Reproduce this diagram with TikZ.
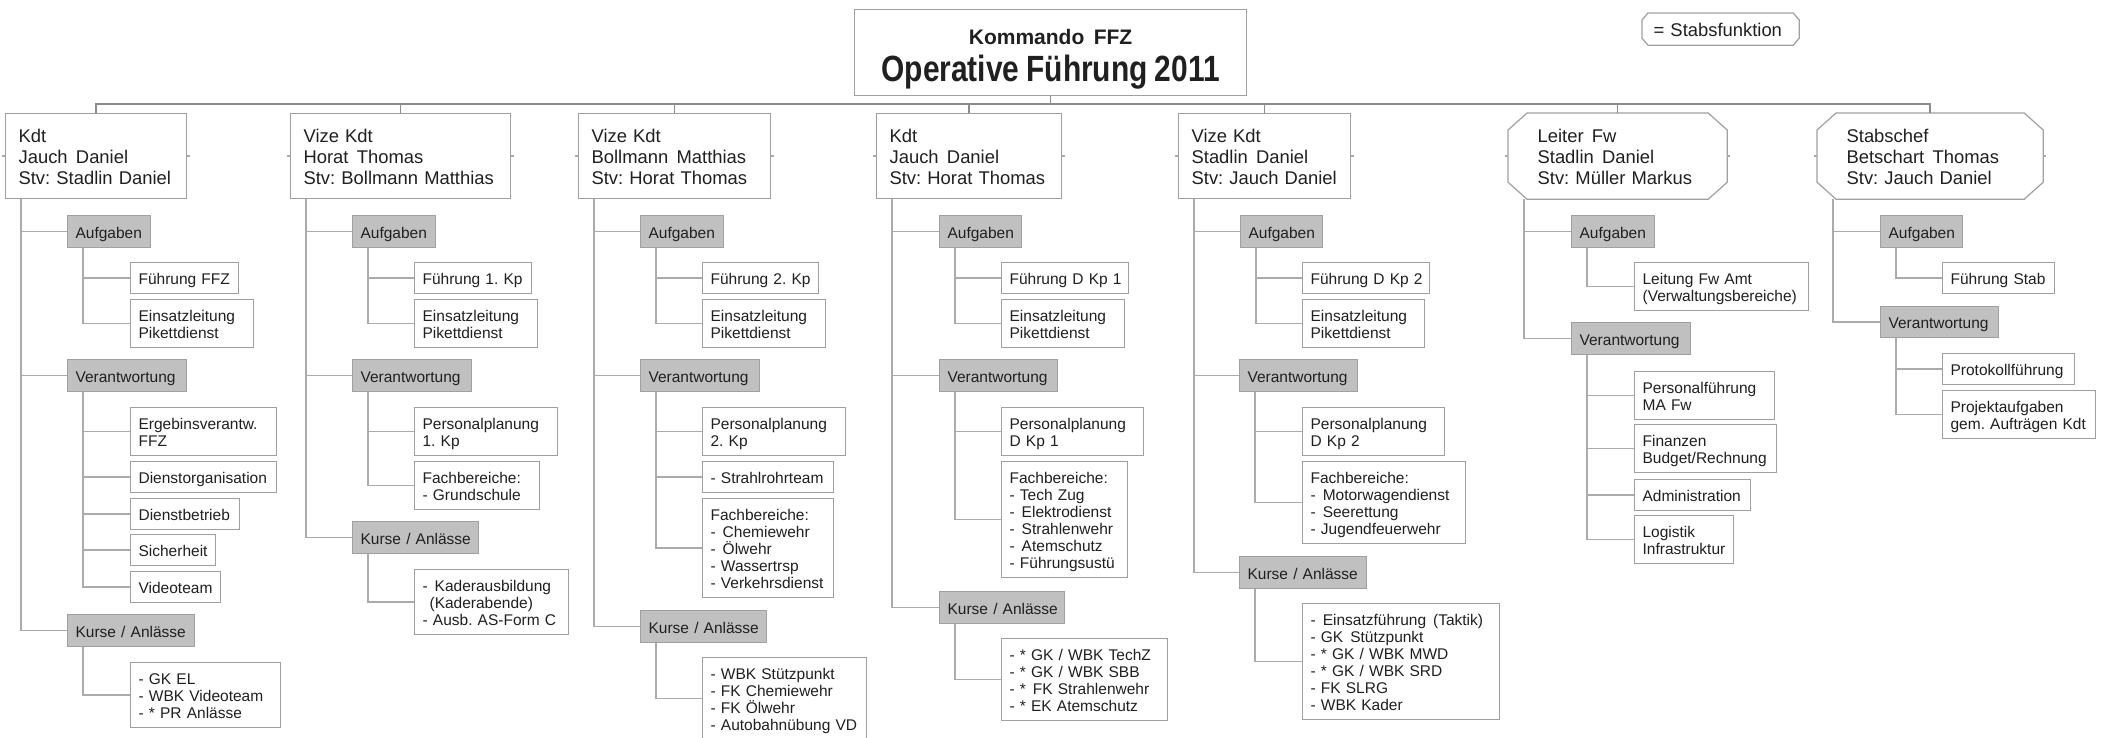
\documentclass[tikz,border=0pt]{standalone}
\usepackage{fontspec}
\setmainfont{Liberation Sans}
\newfontfamily\titelfont[FakeStretch=0.82]{Liberation Sans}
\usepackage{tikz}
\frenchspacing

\definecolor{rand}{HTML}{A0A0A0}
\definecolor{linie}{HTML}{ABABAB}
\definecolor{stamm}{HTML}{8C8C8C}
\definecolor{grau}{HTML}{C0C0C0}
\definecolor{schrift}{HTML}{202020}

\newcommand{\zw}{\hspace{0.45em}}
\newcommand{\fasen}[3]{%
  \draw[draw=rand,line width=1.2pt] ([xshift=#2]#1.north west) -- ([xshift=-#2]#1.north east)
    -- ([yshift=-#3]#1.north east) -- ([yshift=#3]#1.south east)
    -- ([xshift=-#2]#1.south east) -- ([xshift=#2]#1.south west)
    -- ([yshift=#3]#1.south west) -- ([yshift=-#3]#1.north west) -- cycle;}

\begin{document}
\begin{tikzpicture}[x=1pt,y=-1pt,
  kasten/.style={draw=rand,line width=1.2pt,anchor=north west,inner sep=0pt,align=left,text=schrift},
  titelbox/.style={kasten,align=center,text width=392pt,minimum height=86pt,
    font=\fontsize{21}{37}\selectfont\bfseries},
  kopfbox/.style={kasten,minimum height=85pt,font=\fontsize{18.4}{21}\selectfont,
    execute at begin node={\leftskip=13pt\lineskiplimit=-20pt\rule{0pt}{19pt}},
    execute at end node={\rule[-4pt]{0pt}{4pt}}},
  stabbox/.style={kopfbox,draw=none,
    execute at begin node={\leftskip=29pt\lineskiplimit=-20pt\rule{0pt}{19pt}}},
  legende/.style={kasten,draw=none,minimum height=31pt,font=\fontsize{18.4}{21}\selectfont,
    execute at begin node={\leftskip=11pt\rule{0pt}{18.4pt}},
    execute at end node={\rule[-4pt]{0pt}{4pt}}},
  eintrag/.style={kasten,minimum height=31pt,font=\fontsize{15.5}{17}\selectfont,
    execute at begin node={\leftskip=8pt\lineskiplimit=-20pt\rule{0pt}{16.5pt}},
    execute at end node={\rule[-3.5pt]{0pt}{3.5pt}}},
  rubrik/.style={eintrag,fill=grau,minimum height=32pt},
  ast/.style={draw=linie,line width=1.5pt},
  zweig/.style={to path={|- (\tikztotarget.west)}},
  bus/.style={draw=stamm,line width=1.5pt,to path={-- ++(0,8) -| (\tikztotarget.north)}}]

\path[fill=white,use as bounding box] (0,0) rectangle (2105,737);

\node[titelbox] (titel) at (854,9) {\rule{0pt}{29.6pt}Kommando\zw FFZ\\{\titelfont\fontsize{36.5}{37}\selectfont Operative Führung 2011}\rule[-8pt]{0pt}{8pt}};
\node[legende,text width=156pt] (leg) at (1642,13) {= Stabsfunktion};
\fasen{leg}{6pt}{7pt}

\node[kopfbox,text width=181pt] (h_1) at (5,113) {Kdt\\Jauch\zw Daniel\\Stv: Stadlin Daniel};
\node[kopfbox,text width=220pt] (h_2) at (290,113) {Vize Kdt\\Horat\zw Thomas\\Stv: Bollmann Matthias};
\node[kopfbox,text width=192pt] (h_3) at (578,113) {Vize Kdt\\Bollmann\zw Matthias\\Stv: Horat Thomas};
\node[kopfbox,text width=185pt] (h_4) at (876,113) {Kdt\\Jauch\zw Daniel\\Stv: Horat Thomas};
\node[kopfbox,text width=172pt] (h_5) at (1178,113) {Vize Kdt\\Stadlin\zw Daniel\\Stv: Jauch Daniel};
\node[stabbox,text width=218pt] (h_6) at (1508,113) {Leiter\zw Fw\\Stadlin\zw Daniel\\Stv: Müller Markus};
\node[stabbox,text width=225pt] (h_7) at (1817,113) {Stabschef\\Betschart\zw Thomas\\Stv: Jauch Daniel};
\fasen{h_6}{19pt}{17pt}
\fasen{h_7}{19pt}{17pt}

\node[rubrik,text width=83pt] (A_1) at (67,215) {Aufgaben};
\node[eintrag,text width=108pt] (a_1a) at (130,262) {Führung FFZ};
\node[eintrag,text width=123pt,minimum height=48pt] (a_1b) at (130,299) {Einsatzleitung\\Pikettdienst};
\node[rubrik,text width=119pt] (V_1) at (67,359) {Verantwortung};
\node[eintrag,text width=146pt,minimum height=48pt] (v_1a) at (130,407) {Ergebinsverantw.\\FFZ};
\node[eintrag,text width=146pt] (v_1b) at (130,461) {Dienstorganisation};
\node[eintrag,text width=109pt] (v_1c) at (130,498) {Dienstbetrieb};
\node[eintrag,text width=85pt] (v_1d) at (130,534) {Sicherheit};
\node[eintrag,text width=90pt] (v_1e) at (130,571) {Videoteam};
\node[rubrik,text width=127pt] (K_1) at (67,614) {Kurse / Anlässe};
\node[eintrag,text width=150pt,minimum height=65pt] (k_1a) at (130,662) {- GK EL\\- WBK Videoteam\\- * PR Anlässe};

\node[rubrik,text width=83pt] (A_2) at (352,215) {Aufgaben};
\node[eintrag,text width=117pt] (a_2a) at (414,262) {Führung 1. Kp};
\node[eintrag,text width=123pt,minimum height=48pt] (a_2b) at (414,299) {Einsatzleitung\\Pikettdienst};
\node[rubrik,text width=119pt] (V_2) at (352,359) {Verantwortung};
\node[eintrag,text width=143pt,minimum height=48pt] (v_2a) at (414,407) {Personalplanung\\1. Kp};
\node[eintrag,text width=125pt,minimum height=48pt] (v_2b) at (414,461) {Fachbereiche:\\- Grundschule};
\node[rubrik,text width=126pt] (K_2) at (352,521) {Kurse / Anlässe};
\node[eintrag,text width=154pt,minimum height=65pt] (k_2a) at (414,569) {-\zw Kaderausbildung\\\hspace*{7pt}(Kaderabende)\\- Ausb. AS-Form C};

\node[rubrik,text width=83pt] (A_3) at (640,215) {Aufgaben};
\node[eintrag,text width=116pt] (a_3a) at (702,262) {Führung 2. Kp};
\node[eintrag,text width=123pt,minimum height=48pt] (a_3b) at (702,299) {Einsatzleitung\\Pikettdienst};
\node[rubrik,text width=119pt] (V_3) at (640,359) {Verantwortung};
\node[eintrag,text width=143pt,minimum height=48pt] (v_3a) at (702,407) {Personalplanung\\2. Kp};
\node[eintrag,text width=131pt] (v_3b) at (702,461) {- Strahlrohrteam};
\node[eintrag,text width=131pt,minimum height=99pt] (v_3c) at (702,498) {Fachbereiche:\\-\zw Chemiewehr\\-\zw Ölwehr\\- Wassertrsp\\- Verkehrsdienst};
\node[rubrik,text width=126pt] (K_3) at (640,610) {Kurse / Anlässe};
\node[eintrag,text width=164pt,minimum height=82pt] (k_3a) at (702,657) {- WBK Stützpunkt\\- FK Chemiewehr\\- FK Ölwehr\\- Autobahnübung VD};

\node[rubrik,text width=82pt] (A_4) at (939,215) {Aufgaben};
\node[eintrag,text width=127pt] (a_4a) at (1001,262) {Führung D Kp 1};
\node[eintrag,text width=123pt,minimum height=48pt] (a_4b) at (1001,299) {Einsatzleitung\\Pikettdienst};
\node[rubrik,text width=118pt] (V_4) at (939,359) {Verantwortung};
\node[eintrag,text width=142pt,minimum height=48pt] (v_4a) at (1001,407) {Personalplanung\\D Kp 1};
\node[eintrag,text width=126pt,minimum height=116pt] (v_4b) at (1001,461) {Fachbereiche:\\- Tech Zug\\-\zw Elektrodienst\\-\zw Strahlenwehr\\-\zw Atemschutz\\- Führungsustü};
\node[rubrik,text width=125pt] (K_4) at (939,591) {Kurse / Anlässe};
\node[eintrag,text width=166pt,minimum height=82pt] (k_4a) at (1001,638) {- * GK / WBK TechZ\\- * GK / WBK SBB\\- *\zw FK Strahlenwehr\\- * EK Atemschutz};

\node[rubrik,text width=82pt] (A_5) at (1240,215) {Aufgaben};
\node[eintrag,text width=127pt] (a_5a) at (1302,262) {Führung D Kp 2};
\node[eintrag,text width=122pt,minimum height=48pt] (a_5b) at (1302,299) {Einsatzleitung\\Pikettdienst};
\node[rubrik,text width=118pt] (V_5) at (1239,359) {Verantwortung};
\node[eintrag,text width=142pt,minimum height=48pt] (v_5a) at (1302,407) {Personalplanung\\D Kp 2};
\node[eintrag,text width=163pt,minimum height=82pt] (v_5b) at (1302,461) {Fachbereiche:\\-\zw Motorwagendienst\\-\zw Seerettung\\- Jugendfeuerwehr};
\node[rubrik,text width=127pt] (K_5) at (1239,556) {Kurse / Anlässe};
\node[eintrag,text width=197pt,minimum height=116pt] (k_5a) at (1302,603) {-\zw Einsatzführung\zw (Taktik)\\- GK\zw Stützpunkt\\- * GK / WBK MWD\\- * GK / WBK SRD\\- FK SLRG\\- WBK Kader};

\node[rubrik,text width=83pt] (A_6) at (1571,215) {Aufgaben};
\node[eintrag,text width=174pt,minimum height=48pt] (a_6a) at (1634,262) {Leitung Fw Amt\\(Verwaltungsbereiche)};
\node[rubrik,text width=119pt] (V_6) at (1571,322) {Verantwortung};
\node[eintrag,text width=140pt,minimum height=48pt] (v_6a) at (1634,371) {Personalführung\\MA Fw};
\node[eintrag,text width=142pt,minimum height=48pt] (v_6b) at (1634,424) {Finanzen\\Budget/Rechnung};
\node[eintrag,text width=116pt] (v_6c) at (1634,479) {Administration};
\node[eintrag,text width=99pt,minimum height=48pt] (v_6d) at (1634,515) {Logistik\\Infrastruktur};

\node[rubrik,text width=82pt] (A_7) at (1880,215) {Aufgaben};
\node[eintrag,text width=112pt] (a_7a) at (1942,262) {Führung Stab};
\node[rubrik,text width=118pt,minimum height=31pt] (V_7) at (1880,306) {Verantwortung};
\node[eintrag,text width=132pt] (v_7a) at (1942,353) {Protokollführung};
\node[eintrag,text width=153pt,minimum height=48pt] (v_7b) at (1942,390) {Projektaufgaben\\gem. Aufträgen Kdt};

\path[bus] (titel.south) edge (h_1) edge (h_2) edge (h_3) edge (h_4) edge (h_5) edge (h_6) edge (h_7);
\foreach \k in {1,...,7}
  \draw[ast] (h_\k.west) -- ++(-3,0) (h_\k.east) -- ++(3,0);

\path[ast] ([xshift=16pt]h_1.south west) edge[zweig] (A_1) edge[zweig] (V_1) edge[zweig] (K_1)
  ([xshift=16pt]A_1.south west) edge[zweig] (a_1a) edge[zweig] (a_1b)
  ([xshift=16pt]V_1.south west) edge[zweig] (v_1a) edge[zweig] (v_1b) edge[zweig] (v_1c)
    edge[zweig] (v_1d) edge[zweig] (v_1e)
  ([xshift=16pt]K_1.south west) edge[zweig] (k_1a);
\path[ast] ([xshift=16pt]h_2.south west) edge[zweig] (A_2) edge[zweig] (V_2) edge[zweig] (K_2)
  ([xshift=16pt]A_2.south west) edge[zweig] (a_2a) edge[zweig] (a_2b)
  ([xshift=16pt]V_2.south west) edge[zweig] (v_2a) edge[zweig] (v_2b)
  ([xshift=16pt]K_2.south west) edge[zweig] (k_2a);
\path[ast] ([xshift=16pt]h_3.south west) edge[zweig] (A_3) edge[zweig] (V_3) edge[zweig] (K_3)
  ([xshift=16pt]A_3.south west) edge[zweig] (a_3a) edge[zweig] (a_3b)
  ([xshift=16pt]V_3.south west) edge[zweig] (v_3a) edge[zweig] (v_3b) edge[zweig] (v_3c)
  ([xshift=16pt]K_3.south west) edge[zweig] (k_3a);
\path[ast] ([xshift=16pt]h_4.south west) edge[zweig] (A_4) edge[zweig] (V_4) edge[zweig] (K_4)
  ([xshift=16pt]A_4.south west) edge[zweig] (a_4a) edge[zweig] (a_4b)
  ([xshift=16pt]V_4.south west) edge[zweig] (v_4a) edge[zweig] (v_4b)
  ([xshift=16pt]K_4.south west) edge[zweig] (k_4a);
\path[ast] ([xshift=16pt]h_5.south west) edge[zweig] (A_5) edge[zweig] (V_5) edge[zweig] (K_5)
  ([xshift=16pt]A_5.south west) edge[zweig] (a_5a) edge[zweig] (a_5b)
  ([xshift=16pt]V_5.south west) edge[zweig] (v_5a) edge[zweig] (v_5b)
  ([xshift=16pt]K_5.south west) edge[zweig] (k_5a);
\path[ast] ([xshift=16pt]h_6.south west) edge[zweig] (A_6) edge[zweig] (V_6)
  ([xshift=16pt]A_6.south west) edge[zweig] (a_6a)
  ([xshift=16pt]V_6.south west) edge[zweig] (v_6a) edge[zweig] (v_6b) edge[zweig] (v_6c)
    edge[zweig] (v_6d);
\path[ast] ([xshift=16pt]h_7.south west) edge[zweig] (A_7) edge[zweig] (V_7)
  ([xshift=16pt]A_7.south west) edge[zweig] (a_7a)
  ([xshift=16pt]V_7.south west) edge[zweig] (v_7a) edge[zweig] (v_7b);
\end{tikzpicture}
\end{document}
